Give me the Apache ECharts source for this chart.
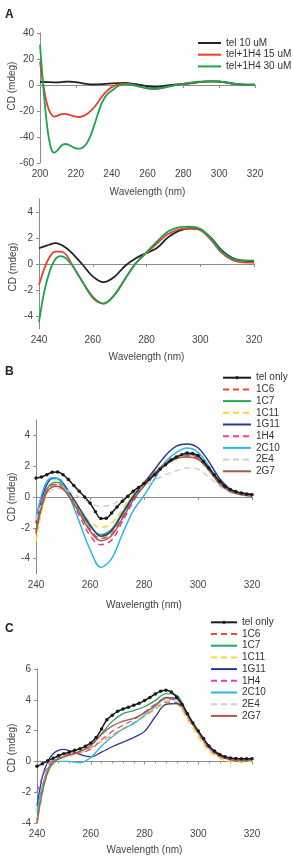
<!DOCTYPE html>
<html>
<head>
<meta charset="utf-8">
<style>
  html, body { margin: 0; padding: 0; background: #fff; }
  #main { width: 293px; height: 857px; }
</style>
<script src="https://cdn.jsdelivr.net/npm/echarts@6/dist/echarts.min.js"></script>
</head>
<body>
<div id="main"></div>
<script>
// ======================= 数据 =======================
// A 上图: 200-320 nm
const xA1 = [200, 202, 204, 206, 208, 210, 212, 214, 216, 218, 220, 222, 224, 226, 228, 230, 232, 234, 236, 238, 240,
  244, 248, 252, 256, 260, 264, 268, 272, 276, 280, 284, 288, 292, 296, 300, 304, 308, 312, 316, 320]
const telA1 = [2.5, 2.3, 2.2, 2.2, 2.0, 2.0, 2.2, 2.5, 2.6, 2.4, 2.2, 1.8, 1.3, 0.8, 0.5, 0.4, 0.5, 0.6, 0.8, 1.0, 1.2,
  1.5, 1.55, 0.9, 0.0, -0.95, -1.4, -1.0, -0.15, 0.45, 0.85, 1.25, 2.05, 2.55, 2.75, 2.65, 2.0, 1.05, 0.45, 0.25, 0.18]
const h15A1 = [18, -1, -15, -22, -24.3, -23.5, -22.4, -22.2, -22.8, -23.7, -24.4, -24.6, -24, -22.5, -20.3, -17.5, -14, -10, -6.5, -3.8, -1.6,
  0.55, 0.95, 0.05, -1.3, -2.6, -3.03, -2.4, -1.15, 0.05, 0.85, 1.6, 2.3, 2.65, 2.72, 2.6, 1.85, 0.85, 0.3, 0.12, 0.1]
const h30A1 = [31, -4, -32, -48, -52, -50, -46.5, -45.4, -46, -47.5, -48.7, -49, -48, -45, -39.7, -32, -23.5, -15.5, -10, -6.5, -4.45,
  -0.55, 0.6, 0.0, -1.25, -2.5, -3.06, -2.4, -1.15, 0.05, 0.9, 1.75, 2.5, 2.82, 2.88, 2.7, 1.95, 0.95, 0.4, 0.27, 0.26]

// 240-320 nm 的粗网格
const xG = [240, 242, 244, 246, 248, 250, 252, 256, 260, 264, 268, 272, 276, 280, 284, 288, 292, 296, 300, 304, 308, 312, 316, 320]
// 2 nm 的细网格 (tel only 带点)
const xF = [240, 242, 244, 246, 248, 250, 252, 254, 256, 258, 260, 262, 264, 266, 268, 270, 272, 274, 276, 278, 280,
  282, 284, 286, 288, 290, 292, 294, 296, 298, 300, 302, 304, 306, 308, 310, 312, 314, 316, 318, 320]

// A 下图
const telA2 = [1.21, 1.35, 1.5, 1.6, 1.5, 1.25, 0.9, 0.0, -0.95, -1.4, -1.0, -0.15, 0.45, 0.85, 1.25, 2.05, 2.55, 2.75, 2.65, 2.0, 1.05, 0.45, 0.25, 0.18]
const h15A2 = [-1.62, -0.35, 0.55, 0.95, 0.95, 0.75, 0.05, -1.3, -2.6, -3.03, -2.4, -1.15, 0.05, 0.85, 1.6, 2.3, 2.65, 2.72, 2.6, 1.85, 0.85, 0.3, 0.12, 0.1]
const h30A2 = [-4.45, -2.1, -0.55, 0.35, 0.6, 0.45, 0.0, -1.3, -2.5, -3.06, -2.4, -1.15, 0.05, 0.9, 1.75, 2.5, 2.82, 2.88, 2.7, 1.95, 0.95, 0.4, 0.27, 0.26]

// B
const telB = [1.23, 1.3, 1.45, 1.6, 1.62, 1.45, 1.13, 0.75, 0.37, 0.0, -0.39, -0.95, -1.4, -1.38, -1.04, -0.65, -0.28, 0.05, 0.37, 0.62, 0.87,
  1.15, 1.45, 1.8, 2.1, 2.4, 2.6, 2.75, 2.85, 2.82, 2.7, 2.3, 1.88, 1.45, 1.02, 0.7, 0.48, 0.35, 0.26, 0.2, 0.15]
const c6B = [-2.4, -0.8, 0.4, 0.8, 0.85, 0.6, 0.2, -1.0, -2.1, -2.7, -2.4, -1.3, -0.1, 0.8, 1.5, 2.1, 2.5, 2.65, 2.5, 1.8, 0.9, 0.4, 0.2, 0.1]
const c7B = [-2.2, -0.6, 0.5, 0.9, 0.95, 0.75, 0.3, -0.8, -1.9, -2.45, -2.1, -1.0, 0.1, 0.9, 1.6, 2.2, 2.6, 2.8, 2.6, 1.9, 1.0, 0.45, 0.25, 0.15]
const c11B = [-2.9, -1.0, 0.2, 0.8, 0.9, 0.65, 0.25, -0.8, -1.6, -1.97, -1.7, -0.8, 0.2, 1.0, 1.6, 2.1, 2.5, 2.6, 2.45, 1.7, 0.9, 0.4, 0.2, 0.1]
const g11B = [-1.7, -0.2, 0.8, 1.2, 1.2, 0.9, 0.4, -0.7, -1.8, -2.55, -2.2, -1.1, 0.0, 0.9, 1.8, 2.7, 3.3, 3.44, 3.2, 2.3, 1.2, 0.5, 0.25, 0.2]
const h4B = [-1.6, -0.3, 0.5, 0.8, 0.8, 0.55, 0.1, -1.2, -2.5, -3.1, -2.8, -1.6, -0.3, 0.8, 1.6, 2.2, 2.6, 2.7, 2.55, 1.8, 0.9, 0.4, 0.2, 0.1]
const c10B = [-1.4, 0.1, 1.0, 1.25, 1.2, 0.8, 0.2, -1.6, -3.4, -4.57, -4.0, -2.4, -0.9, 0.1, 1.2, 2.3, 2.9, 3.18, 2.9, 2.0, 1.0, 0.4, 0.2, 0.15]
const e4B = [-1.5, -0.5, 0.1, 0.45, 0.55, 0.5, 0.4, 0.0, -0.4, -0.61, -0.5, -0.1, 0.3, 0.7, 1.1, 1.45, 1.7, 1.88, 1.8, 1.3, 0.7, 0.3, 0.15, 0.1]
const g7B = [-2.3, -0.7, 0.3, 0.65, 0.69, 0.5, 0.1, -1.0, -2.2, -2.84, -2.5, -1.4, -0.2, 0.7, 1.5, 2.1, 2.5, 2.6, 2.45, 1.75, 0.85, 0.35, 0.15, 0.05]

// C
const telC = [-0.32, -0.15, 0.05, 0.2, 0.38, 0.5, 0.6, 0.72, 0.82, 0.98, 1.2, 1.55, 2.1, 2.7, 3.0, 3.25, 3.4, 3.52, 3.65, 3.78, 3.95,
  4.15, 4.38, 4.56, 4.62, 4.5, 4.17, 3.7, 3.1, 2.5, 1.98, 1.48, 1.0, 0.68, 0.45, 0.3, 0.22, 0.19, 0.17, 0.17, 0.17]
const c6C = [-4.0, -2.0, -0.7, -0.1, 0.15, 0.3, 0.4, 0.6, 0.9, 1.3, 1.7, 2.1, 2.5, 2.95, 3.4, 3.85, 3.8, 2.85, 1.8, 0.8, 0.3, 0.1, 0.05, 0.05]
const c7C = [-3.8, -1.7, -0.5, 0.0, 0.2, 0.3, 0.4, 0.65, 1.0, 1.8, 2.6, 3.1, 3.3, 3.55, 3.95, 4.4, 4.3, 3.05, 1.95, 0.95, 0.4, 0.18, 0.1, 0.1]
const c11C = [-4.0, -2.1, -0.8, -0.2, 0.1, 0.25, 0.35, 0.55, 0.85, 1.3, 1.75, 2.15, 2.5, 2.9, 3.35, 3.75, 3.7, 2.7, 1.6, 0.65, 0.2, 0.0, -0.05, 0.0]
const g11C = [-2.9, -1.0, 0.0, 0.5, 0.72, 0.78, 0.7, 0.45, 0.3, 0.6, 0.95, 1.25, 1.55, 1.95, 2.9, 3.7, 3.75, 3.0, 1.9, 0.9, 0.35, 0.15, 0.1, 0.1]
const h4C = [-2.0, -1.0, -0.3, 0.1, 0.3, 0.4, 0.45, 0.55, 0.8, 1.4, 1.95, 2.35, 2.7, 3.2, 3.7, 4.05, 3.95, 2.9, 1.85, 0.85, 0.35, 0.1, 0.05, 0.05]
const c10C = [-3.25, -1.6, -0.6, -0.1, 0.0, 0.0, 0.0, -0.08, 0.25, 1.0, 1.6, 2.1, 2.45, 3.0, 3.55, 4.1, 4.05, 3.0, 1.9, 0.9, 0.35, 0.15, 0.1, 0.1]
const e4C = [-3.9, -1.9, -0.7, -0.1, 0.15, 0.3, 0.4, 0.6, 1.0, 1.7, 2.3, 2.65, 2.8, 3.1, 3.5, 3.95, 3.9, 2.9, 1.85, 0.85, 0.35, 0.12, 0.08, 0.08]
const g7C = [-4.0, -2.0, -0.7, -0.1, 0.15, 0.3, 0.4, 0.65, 1.05, 1.75, 2.3, 2.6, 2.8, 3.15, 3.65, 4.15, 4.1, 3.0, 1.9, 0.9, 0.35, 0.12, 0.08, 0.08]

const namesA = ['tel 10 uM', 'tel+1H4 15 uM', 'tel+1H4 30 uM']
const namesB = ['tel only', '1C6', '1C7', '1C11', '1G11', '1H4', '2C10', '2E4', '2G7']

// ======================= 样式 =======================
const FONT = 'Liberation Sans'
const AXIS = '#8c8c8c'
const TXT = '#444'
const colorsA = ['#222222', '#ee3d23', '#1ca34f']
const styleB = {
  'tel only': { color: '#1a1a1a', type: 'solid' },
  '1C6': { color: '#ef4b32', type: [6, 4] },
  '1C7': { color: '#22a95a', type: 'solid' },
  '1C11': { color: '#f7d631', type: [6, 4] },
  '1G11': { color: '#2b3990', type: 'solid' },
  '1H4': { color: '#ec3f9c', type: [6, 4] },
  '2C10': { color: '#29b7ea', type: 'solid' },
  '2E4': { color: '#cfcfcf', type: [6, 4] },
  '2G7': { color: '#a65a45', type: 'solid' }
}

function pairs(xs, ys) {
  return xs.map((x, i) => [x, ys[i]])
}

function xAxisOf(gi, min, gap, minor) {
  return {
    gridIndex: gi, type: 'value', min: min, max: 320, interval: 20,
    name: 'Wavelength (nm)', nameLocation: 'middle', nameGap: gap,
    nameTextStyle: { fontFamily: FONT, fontSize: 10, color: TXT },
    axisLine: { lineStyle: { color: AXIS } },
    axisTick: { length: 3, lineStyle: { color: AXIS } },
    minorTick: { show: !!minor, splitNumber: 5, length: 2, lineStyle: { color: AXIS } },
    splitLine: { show: false },
    axisLabel: { fontFamily: FONT, fontSize: 10, color: TXT, margin: 6 }
  }
}

function yAxisOf(gi, min, max, interval, custom) {
  let ax = {
    gridIndex: gi, type: 'value', min: min, max: max,
    axisLine: { show: true, lineStyle: { color: AXIS } },
    axisTick: { show: true, length: 3, lineStyle: { color: AXIS } },
    splitLine: { show: false },
    axisLabel: { fontFamily: FONT, fontSize: 10, color: TXT, margin: 6 }
  }
  if (custom) {
    ax.axisLabel.customValues = custom
    ax.axisTick.customValues = custom
  } else {
    ax.interval = interval
  }
  return ax
}

function lineSeries(name, gi, xs, ys, color, width, type) {
  return {
    name: name, type: 'line', xAxisIndex: gi, yAxisIndex: gi,
    data: pairs(xs, ys), smooth: 0.35, symbol: 'none',
    lineStyle: { color: color, width: width, type: type || 'solid' },
    itemStyle: { color: color },
    z: 2
  }
}

function telSeries(gi, ys) {
  return {
    name: 'tel only', type: 'line', xAxisIndex: gi, yAxisIndex: gi,
    data: pairs(xF, ys), smooth: 0.35, symbol: 'circle', symbolSize: 3.5, showSymbol: true,
    lineStyle: { color: '#1a1a1a', width: 1.5 },
    itemStyle: { color: '#1a1a1a' },
    z: 4
  }
}

const seriesB = [
  ['1C6', c6B], ['1C7', c7B], ['1C11', c11B], ['1G11', g11B], ['1H4', h4B], ['2C10', c10B], ['2E4', e4B], ['2G7', g7B]
]
const seriesC = [
  ['1C6', c6C], ['1C7', c7C], ['1C11', c11C], ['1G11', g11C], ['1H4', h4C], ['2C10', c10C], ['2E4', e4C], ['2G7', g7C]
]

let series = []
// A
series.push(lineSeries(namesA[0], 0, xA1, telA1, colorsA[0], 1.8))
series.push(lineSeries(namesA[1], 0, xA1, h15A1, colorsA[1], 1.8))
series.push(lineSeries(namesA[2], 0, xA1, h30A1, colorsA[2], 1.8))
series.push(lineSeries(namesA[0], 1, xG, telA2, colorsA[0], 1.8))
series.push(lineSeries(namesA[1], 1, xG, h15A2, colorsA[1], 1.8))
series.push(lineSeries(namesA[2], 1, xG, h30A2, colorsA[2], 1.8))
// B
seriesB.forEach(s => {
  let st = styleB[s[0]]
  series.push(lineSeries(s[0], 2, xG, s[1], st.color, 1.5, st.type))
})
series.push(telSeries(2, telB))
// C
seriesC.forEach(s => {
  let st = styleB[s[0]]
  series.push(lineSeries(s[0], 3, xG, s[1], st.color, 1.3, st.type))
})
series.push(telSeries(3, telC))

// 图例: 只有 tel only 显示圆点, 其他隐藏
function legendOf(left, top, w, names) {
  return {
    orient: 'vertical', left: left, top: top, padding: 0,
    itemWidth: w, itemHeight: 4, itemGap: 1.7,
    textStyle: { fontFamily: FONT, fontSize: 10, color: '#333', lineHeight: 10 },
    data: names.map(n => n === 'tel only' ? { name: n } : { name: n, itemStyle: { opacity: 0 } }),
    selectedMode: false
  }
}

function yName(x, y, text) {
  return {
    type: 'text', x: x, y: y, rotation: Math.PI / 2,
    style: { text: text, fontFamily: FONT, fontSize: 10, fill: TXT, align: 'center', verticalAlign: 'middle' }
  }
}

function panelLabel(x, y, text) {
  return {
    type: 'text', x: x, y: y,
    style: { text: text, fontFamily: FONT, fontSize: 12, fontWeight: 'bold', fill: '#222', align: 'left', verticalAlign: 'middle' }
  }
}

let myChart = echarts.init(document.getElementById('main'))
let option = {
  animation: false,
  backgroundColor: '#fff',
  grid: [
    { left: 40, top: 33, width: 215, height: 130, outerBoundsMode: 'none' },
    { left: 39, top: 199, width: 215, height: 130, outerBoundsMode: 'none' },
    { left: 36, top: 420, width: 216, height: 154, outerBoundsMode: 'none' },
    { left: 37, top: 669, width: 215, height: 154, outerBoundsMode: 'none' }
  ],
  xAxis: [xAxisOf(0, 200, 24), xAxisOf(1, 240, 23), xAxisOf(2, 240, 26), xAxisOf(3, 240, 22, true)],
  yAxis: [
    yAxisOf(0, -60, 40, 20),
    yAxisOf(1, -5, 5, null, [-4, -2, 0, 2, 4]),
    yAxisOf(2, -5, 5, null, [-4, -2, 0, 2, 4]),
    yAxisOf(3, -4, 6, 2)
  ],
  legend: [
    legendOf(197, 38, 23, namesA),
    legendOf(222, 372.7, 28, namesB),
    legendOf(210, 617.3, 26, namesB)
  ],
  graphic: [
    panelLabel(5, 15, 'A'),
    panelLabel(5, 372, 'B'),
    panelLabel(5, 629, 'C'),
    yName(12, 86, 'CD (mdeg)'),
    yName(13, 267, 'CD (mdeg)'),
    yName(12, 497, 'CD (mdeg)'),
    yName(12, 748, 'CD (mdeg)')
  ],
  series: series
}
myChart.setOption(option)
</script>
</body>
</html>
